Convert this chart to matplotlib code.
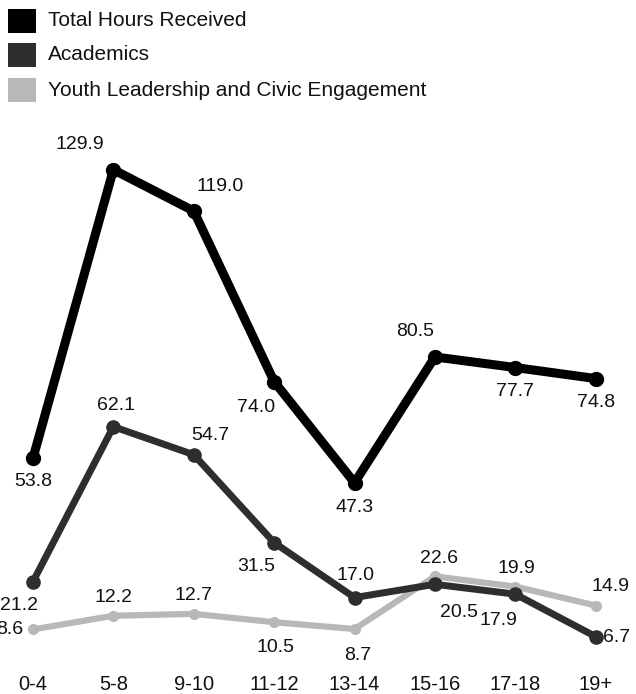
import numpy as np
import matplotlib
matplotlib.use('Agg')
import matplotlib.pyplot as plt
from matplotlib.patches import Rectangle

plt.rcParams['font.family'] = ['Liberation Sans', 'DejaVu Sans']

age_groups = ['0-4', '5-8', '9-10', '11-12', '13-14', '15-16', '17-18', '19+']
total_hours = [53.8, 129.9, 119.0, 74.0, 47.3, 80.5, 77.7, 74.8]
academics = [21.2, 62.1, 54.7, 31.5, 17.0, 20.5, 17.9, 6.7]
youth_leadership = [8.6, 12.2, 12.7, 10.5, 8.7, 22.6, 19.9, 14.9]
series_names = ['Total Hours Received', 'Academics',
                'Youth Leadership and Civic Engagement']

# label offsets from each point, in points (dx, dy)
total_offsets = [(0, -17), (-24, 18), (19, 18), (-13, -19), (0, -18), (-14, 18), (0, -17), (0, -17)]
acad_offsets = [(-10, -17), (2, 15), (12, 14), (-13, -17), (1, 16), (17, -20), (-12, -19), (15, -1)]
youth_offsets = [(-17, 0), (0, 13), (0, 13), (1, -18), (2, -19), (3, 13), (1, 13), (11, 14)]

W, H = 636, 694
fig = plt.figure(figsize=(W / 100, H / 100), dpi=100)
ax = fig.add_axes([0.0013, 32 / H, 627 / W, 511.6 / H])

x = np.arange(len(age_groups))

ax.plot(x, youth_leadership, color='#b8b8b8', lw=4.5, marker='o', ms=7,
        solid_joinstyle='round', clip_on=False, zorder=2)
ax.plot(x, academics, color='#2e2e2e', lw=5, marker='o', ms=9.5,
        solid_joinstyle='round', clip_on=False, zorder=3)
ax.plot(x, total_hours, color='black', lw=6.5, marker='o', ms=10,
        solid_joinstyle='round', clip_on=False, zorder=4)

for values, offsets in [(total_hours, total_offsets),
                        (academics, acad_offsets),
                        (youth_leadership, youth_offsets)]:
    for xi, v, (dx, dy) in zip(x, values, offsets):
        ax.annotate(f'{v:.1f}', (xi, v), xytext=(dx, dy), textcoords='offset points',
                    ha='center', va='center', fontsize=14, color='#111111',
                    annotation_clip=False, zorder=5)

ax.set_xlim(-0.4, 7.4)
ax.set_ylim(0, 135)
ax.set_xticks(x)
ax.set_xticklabels(age_groups, fontsize=14.5, color='#111111')
ax.set_yticks([])
ax.tick_params(axis='x', length=0, pad=9)
for side in ax.spines.values():
    side.set_visible(False)

# legend boxes drawn in figure pixels
legend_colors = ['black', '#2e2e2e', '#b8b8b8']
legend_tops = [9, 43, 78]
for name, color, top in zip(series_names, legend_colors, legend_tops):
    fig.add_artist(Rectangle((8 / W, 1 - (top + 24) / H), 28 / W, 24 / H,
                             transform=fig.transFigure, facecolor=color,
                             edgecolor='none'))
    fig.text(48 / W, 1 - (top + 12) / H, name, fontsize=15, color='#111111',
             ha='left', va='center')

fig.savefig('out.png', dpi=100)
